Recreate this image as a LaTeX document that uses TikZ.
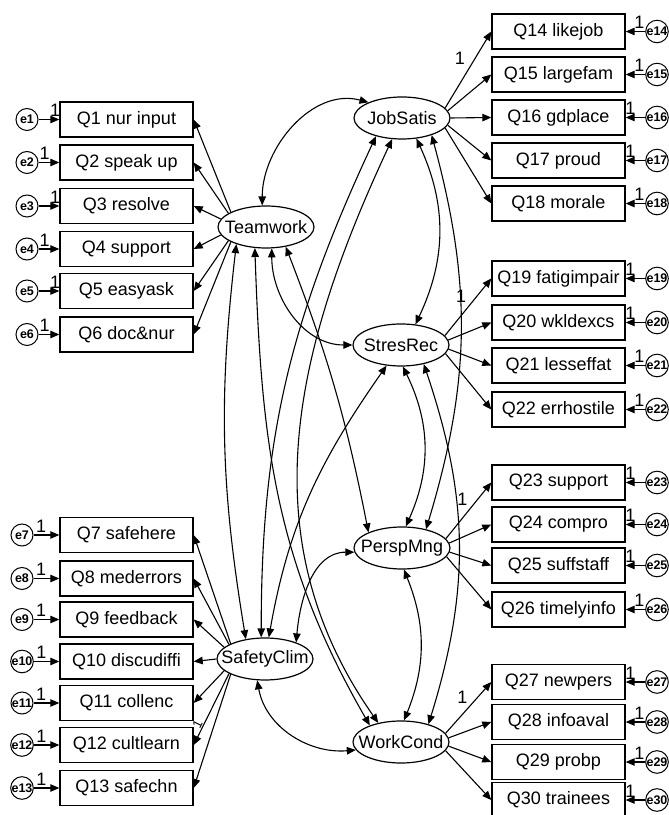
\documentclass[tikz,border=0pt]{standalone}
\usepackage{fontspec}
\setmainfont{Liberation Sans}
\usetikzlibrary{arrows.meta, shapes.geometric}

\begin{document}
\begin{tikzpicture}[x=1pt, y=1pt,
    every node/.style={font=\fontsize{18}{20}\selectfont},
    obs/.style={draw, line width=1.4pt, minimum width=133pt, minimum height=35pt, inner sep=0pt},
    lat/.style={draw, ellipse, line width=1.2pt, minimum width=96pt, minimum height=42pt, inner sep=0pt},
    err/.style={draw, circle, line width=1pt, minimum size=22pt, inner sep=0pt, font=\bfseries\fontsize{12.5}{13}\selectfont},
    arr/.style={-{Triangle[length=9pt, width=7.5pt]}, line width=1.1pt},
    cov/.style={{Triangle[length=9pt, width=7.5pt]}-{Triangle[length=9pt, width=7.5pt]}, line width=1.1pt},
    one/.style={inner sep=0pt, above=2pt}]
    \useasboundingbox (0,0) rectangle (669,815);
    % Latent factors
    \node[lat] (tw) at (266,588) {\makebox[0pt]{Teamwork}};
    \node[lat] (js) at (402,697) {\makebox[0pt]{JobSatis}};
    \node[lat] (sr) at (401,470) {\makebox[0pt]{StresRec}};
    \node[lat] (pm) at (402,267) {\makebox[0pt]{PerspMng}};
    \node[lat] (wc) at (401,73) {\makebox[0pt]{WorkCond}};
    \node[lat] (sc) at (265,156) {\makebox[0pt]{SafetyClim}};
    % Left items with errors
    \foreach \n/\txt/\y/\a/\p in {1/Q1 nur input/695.5/157/.8, 2/Q2 speak up/652.5/160/.3,
        3/Q3 resolve/609/170/.8, 4/Q4 support/566/190/.3, 5/Q5 easyask/524/200/.8,
        6/Q6 doc\&nur/480.5/203/.3} {
        \node[obs] (q\n) at (126.5,\y) {\txt};
        \node[err] (e\n) at (27,\y) {e\n};
        \draw[arr] (e\n) -- (q\n) node[pos=\p, one] (o\n) {1};
        \draw[arr] (tw.\a) -- (q\n.east);
    }
    \foreach \n/\txt/\y/\a/\p in {7/Q7 safehere/280/156/.3, 8/Q8 mederrors/236.5/158/.3,
        9/Q9 feedback/195.5/164/.3, 10/Q10 discudiffi/153.5/180/.3, 11/Q11 collenc/112/196/.3,
        12/Q12 cultlearn/70/202/.3, 13/Q13 safechn/27/204/.3} {
        \node[obs] (q\n) at (126.5,\y) {\txt};
        \node[err] (e\n) at (22,\y) {e\n};
        \draw[arr] (e\n) -- (q\n) node[pos=\p, one] (o\n) {1};
        \draw[arr] (sc.\a) -- (q\n.east);
    }
    \path (sc.202) -- (q12.east) node[pos=.75, sloped, above=1pt, inner sep=0pt, font=\fontsize{13}{13}\selectfont] (f12) {1};
    % Right items with errors
    \foreach \n/\txt/\y/\p in {14/Q14 likejob/783.5/.3, 15/Q15 largefam/740.5/.3,
        16/Q16 gdplace/697.5/.76, 17/Q17 proud/654.5/.76, 18/Q18 morale/611.5/.3,
        19/Q19 fatigimpair/536.5/.76, 20/Q20 wkldexcs/492.5/.76, 21/Q21 lesseffat/449.5/.3,
        22/Q22 errhostile/405.5/.3, 23/Q23 support/332.5/.76, 24/Q24 compro/290.5/.76,
        25/Q25 suffstaff/249.5/.76, 26/Q26 timelyinfo/205.5/.3, 27/Q27 newpers/133/.76,
        28/Q28 infoaval/93/.3, 29/Q29 probp/53/.3, 30/Q30 trainees/15/.76} {
        \node[obs] (q\n) at (558.5,\y) {\txt};
        \node[err] (e\n) at (657,\y) {e\n};
        \draw[arr] (e\n) -- (q\n) node[pos=\p, one] (o\n) {1};
    }
    \foreach \l/\n/\a in {js/14/13, js/15/9, js/16/0, js/17/-9, js/18/-13,
        sr/19/12, sr/20/6, sr/21/-5, sr/22/-11, pm/23/12, pm/24/6, pm/25/-5, pm/26/-11,
        wc/27/11, wc/28/5, wc/29/-5, wc/30/-11}
        \draw[arr] (\l.\a) -- (q\n.west);
    % Fixed loadings
    \path (js.13) -- (q14.west) node[pos=.65, left=10pt, inner sep=0pt] (f14) {1};
    \path (sr.12) -- (q19.west) node[pos=.68, left=10pt, inner sep=0pt] (f19) {1};
    \path (pm.12) -- (q23.west) node[pos=.7, left=10pt, inner sep=0pt] (f23) {1};
    \path (wc.11) -- (q27.west) node[pos=.7, left=10pt, inner sep=0pt] (f27) {1};
    % Covariances
    \draw[cov] (tw.100) to[out=90, in=165] (js.155);
    \draw[cov] (tw.-75) to[out=-90, in=180] (sr.180);
    \draw[cov] (tw.-45) to[bend left=5] (pm.155);
    \draw[cov] (tw.-118) to[out=-88, in=120] (wc.152);
    \draw[cov] (tw.-150) to[bend right=8] (sc.134);
    \draw[cov] (js.-55) to[bend left=25] (sr.55);
    \draw[cov] (js.-30) to[bend left=16] (pm.38);
    \draw[cov] (js.-145) to[out=-115, in=90] (sc.100);
    \draw[cov] (js.-115) to[out=-115, in=125] (wc.140);
    \draw[cov] (sr.-85) to[bend left=25] (pm.80);
    \draw[cov] (sr.-40) to[bend left=18] (wc.33);
    \draw[cov] (sr.-125) to[out=-125, in=80] (sc.80);
    \draw[cov] (pm.185) to[out=180, in=85] (sc.28);
    \draw[cov] (pm.-85) to[bend left=22] (wc.82);
    \draw[cov] (sc.-110) to[out=-80, in=185] (wc.190);
\end{tikzpicture}
\end{document}
